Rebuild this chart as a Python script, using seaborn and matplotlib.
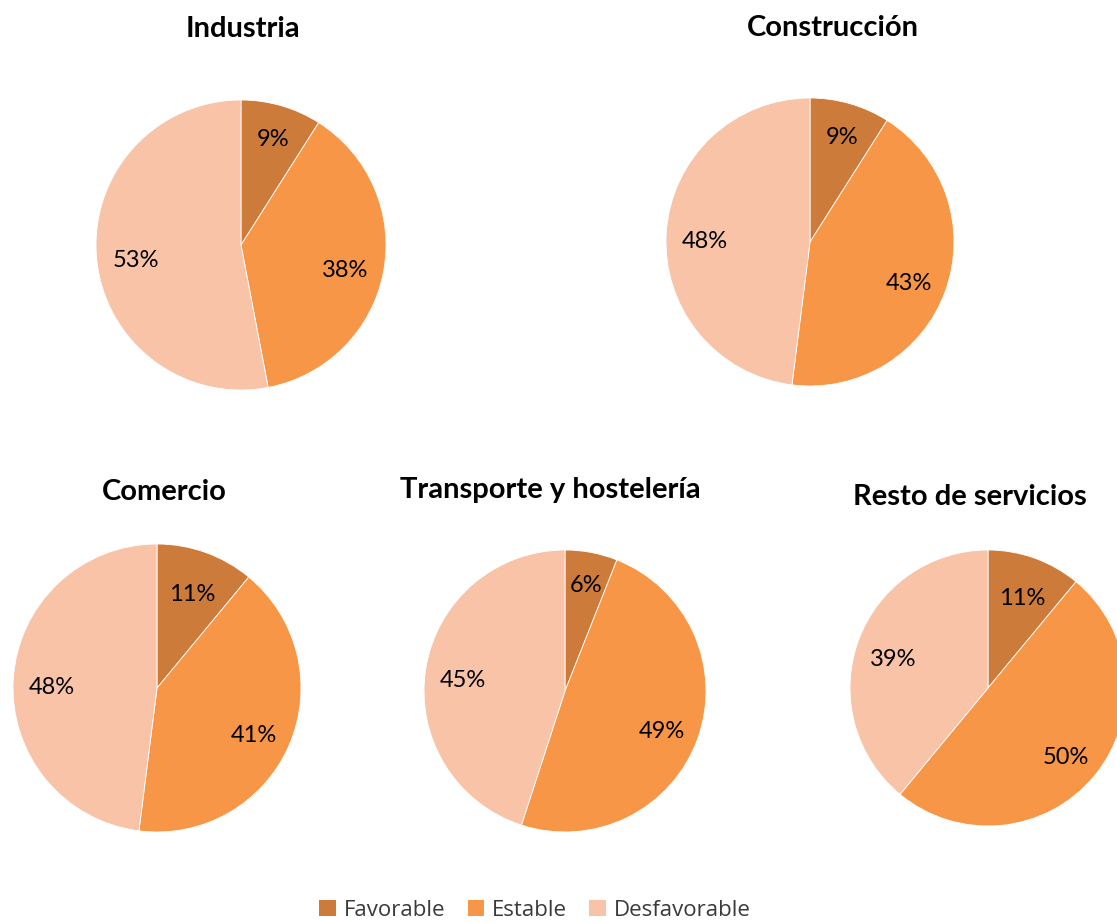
import numpy as np
import matplotlib
matplotlib.use("Agg")
import matplotlib.pyplot as plt
import seaborn as sns
from matplotlib.patches import Patch

sns.set_theme(style="white")
plt.rcParams['font.family'] = ['Lato', 'DejaVu Sans']

categories = ["Favorable", "Estable", "Desfavorable"]
sectors = ["Industria", "Construcción", "Comercio", "Transporte y hostelería", "Resto de servicios"]
industria = [9, 38, 53]
construccion = [9, 43, 48]
comercio = [11, 41, 48]
transporte = [6, 49, 45]
resto = [11, 50, 39]
values = [industria, construccion, comercio, transporte, resto]

colors = ["#CD7B3A", "#F79646", "#F9C3A8"]

W, H = 1117, 923
fig = plt.figure(figsize=(W / 100, H / 100), dpi=100)
fig.patch.set_facecolor("white")

# pie centers/radii in pixels, and title positions
layout = [
    dict(c=(241, 245), r=145, t=(243, 29)),
    dict(c=(810, 242), r=144, t=(833, 28)),
    dict(c=(157, 688), r=144, t=(164, 492)),
    dict(c=(565, 691), r=141, t=(550, 490)),
    dict(c=(988, 688), r=138, t=(970, 497)),
]

for name, vals, lay in zip(sectors, values, layout):
    cx, cy = lay["c"]
    r = lay["r"]
    ax = fig.add_axes([(cx - r) / W, 1 - (cy + r) / H, 2 * r / W, 2 * r / H])
    wedges, texts = ax.pie(vals, colors=colors, startangle=90, counterclock=False,
                           radius=1.0, wedgeprops=dict(linewidth=0.6, edgecolor="white"))
    for w, v in zip(wedges, vals):
        ang = np.deg2rad((w.theta1 + w.theta2) / 2)
        d = 0.80 if v < 10 else 0.73
        ax.text(d * np.cos(ang), d * np.sin(ang) - 0.04, f"{v}%", ha="center", va="center",
                fontsize=17, color="black")
    ax.set_xlim(-1, 1)
    ax.set_ylim(-1, 1)
    ax.set_aspect("equal")
    ax.axis("off")
    tx, ty = lay["t"]
    fig.text(tx / W, 1 - ty / H, name, ha="center", va="center", fontsize=21,
             fontweight="bold", color="black")

handles = [Patch(facecolor=c, edgecolor="none", label=l) for c, l in zip(colors, categories)]
fig.legend(handles=handles, loc="center", bbox_to_anchor=(535 / W, 1 - 910 / H), ncol=3,
           frameon=False, handlelength=0.75, handleheight=0.75,
           handletextpad=0.35, columnspacing=1.0, labelcolor="#3a3a3a",
           prop={'family': ['Open Sans', 'DejaVu Sans'], 'size': 16})

fig.savefig("out.png", dpi=100, facecolor="white")
